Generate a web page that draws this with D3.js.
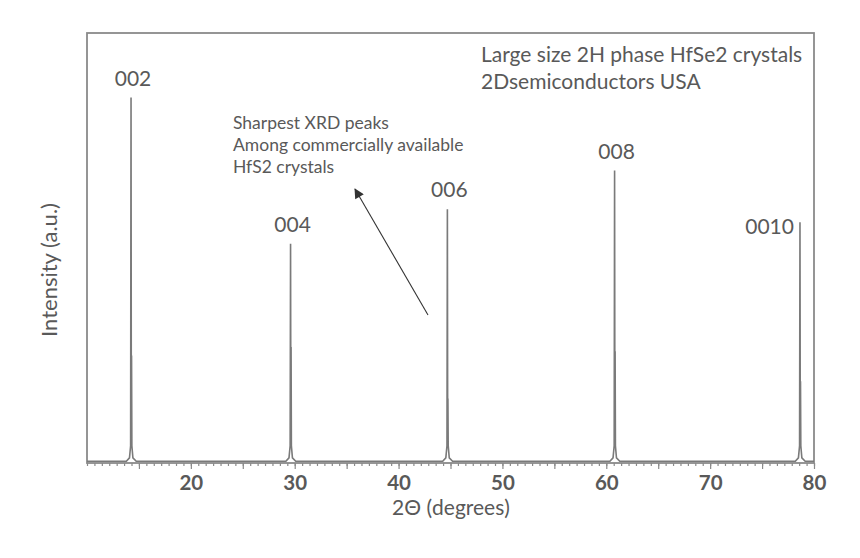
<!DOCTYPE html>
<html>
<head>
<meta charset="utf-8">
<script src="https://cdn.jsdelivr.net/npm/d3@7"></script>
<style>
  body { margin: 0; background: #fff; }
  text { font-family: Lato, "Open Sans", sans-serif; fill: #595959; }
</style>
</head>
<body>
<div id="chart"></div>
<script>
// peaks (2theta in degrees, intensity in a.u. 0-100)
const peakLabels = ["002", "004", "006", "008", "0010"];
const peakPos = [14.24, 29.6, 44.7, 60.8, 78.65];
const peakHeight = [85, 51, 59, 68, 56];
const shoulderHeight = [25, 27, 15, 26, 19];
const xMajor = [15, 20, 25, 30, 35, 40, 45, 50, 55, 60, 65, 70, 75, 80];
const xLabels = [20, 30, 40, 50, 60, 70, 80];
const titleLines = ["Large size 2H phase HfSe2 crystals", "2Dsemiconductors USA"];
const noteLines = ["Sharpest XRD peaks", "Among commercially available", "HfS2 crystals"];

var width = 860, height = 558;
var margin = {top: 33, left: 87, right: 46, bottom: 95};

var svg = d3.select("#chart").append("svg")
    .attr("width", width)
    .attr("height", height);

var x = d3.scaleLinear()
    .domain([10, 80])
    .range([margin.left, width - margin.right]);

var y = d3.scaleLinear()
    .domain([0, 100])
    .range([height - margin.bottom, margin.top]);

// frame
svg.append("rect")
    .attr("x", x(10))
    .attr("y", y(100))
    .attr("width", x(80) - x(10))
    .attr("height", y(0) - y(100))
    .attr("fill", "none")
    .attr("stroke", "#8a8a8a")
    .attr("stroke-width", 1.8);

// minor ticks
var minor = d3.range(10, 80.01, 5 / 7);
svg.append("g")
    .attr("transform", "translate(0," + y(0) + ")")
    .call(d3.axisBottom(x).tickValues(minor).tickSize(3).tickFormat(""))
    .call(g => g.select(".domain").remove())
    .call(g => g.selectAll("line").attr("stroke", "#8a8a8a").attr("stroke-width", 1.2));

// major ticks + labels
svg.append("g")
    .attr("transform", "translate(0," + y(0) + ")")
    .call(d3.axisBottom(x).tickValues(xMajor).tickSize(6)
        .tickFormat(d => xLabels.includes(d) ? d : ""))
    .call(g => g.select(".domain").remove())
    .call(g => g.selectAll("line").attr("stroke", "#8a8a8a").attr("stroke-width", 1.2))
    .call(g => g.selectAll("text")
        .attr("y", 27)
        .attr("dy", 0)
        .attr("font-size", 20.5)
        .attr("font-weight", "bold")
        .style("fill", "#595959"));

// trace
var pts = [[10, 0.4]];
peakPos.forEach((p, i) => {
    pts.push([p - 0.45, 0.4], [p - 0.15, 1.2], [p - 0.04, 4],
             [p, peakHeight[i]], [p + 0.03, 5],
             [p + 0.05, shoulderHeight[i]], [p + 0.08, 4],
             [p + 0.18, 1.2], [p + 0.5, 0.4]);
});
pts.push([80, 0.4]);

var line = d3.line()
    .x(d => x(d[0]))
    .y(d => y(d[1]));

svg.append("path")
    .datum(pts)
    .attr("d", line)
    .attr("fill", "none")
    .attr("stroke", "#7a7a7a")
    .attr("stroke-width", 1.6);

// peak labels (the last one sits left of its peak)
svg.selectAll(".peakLabel")
    .data(peakLabels)
    .enter().append("text")
    .attr("class", "peakLabel")
    .attr("x", (d, i) => i == 4 ? x(peakPos[i]) - 6 : x(peakPos[i]) + 2)
    .attr("y", (d, i) => i == 4 ? y(peakHeight[i]) + 12 : y(peakHeight[i]) - 12)
    .attr("text-anchor", (d, i) => i == 4 ? "end" : "middle")
    .attr("font-size", 21)
    .text(d => d);

// title top right
svg.selectAll(".title")
    .data(titleLines)
    .enter().append("text")
    .attr("class", "title")
    .attr("x", 481)
    .attr("y", (d, i) => 62 + i * 27)
    .attr("font-size", 21)
    .text(d => d);

// annotation
svg.selectAll(".note")
    .data(noteLines)
    .enter().append("text")
    .attr("class", "note")
    .attr("x", 233)
    .attr("y", (d, i) => 129 + i * 22)
    .attr("font-size", 17.5)
    .text(d => d);

svg.append("defs").append("marker")
    .attr("id", "arrow")
    .attr("viewBox", "0 0 10 10")
    .attr("refX", 9)
    .attr("refY", 5)
    .attr("markerWidth", 16)
    .attr("markerHeight", 10)
    .attr("markerUnits", "userSpaceOnUse")
    .attr("orient", "auto")
    .append("path")
    .attr("d", "M0,0L10,5L0,10z")
    .attr("fill", "#333");

svg.append("line")
    .attr("x1", 428).attr("y1", 315)
    .attr("x2", 355).attr("y2", 189)
    .attr("stroke", "#333")
    .attr("stroke-width", 1.1)
    .attr("marker-end", "url(#arrow)");

// axis titles
svg.append("text")
    .attr("x", 451)
    .attr("y", 515)
    .attr("text-anchor", "middle")
    .attr("font-size", 21)
    .text("2\u0398 (degrees)");

svg.append("text")
    .attr("transform", "translate(57," + 270 + ") rotate(-90)")
    .attr("text-anchor", "middle")
    .attr("font-size", 22)
    .text("Intensity (a.u.)");
</script>
</body>
</html>
